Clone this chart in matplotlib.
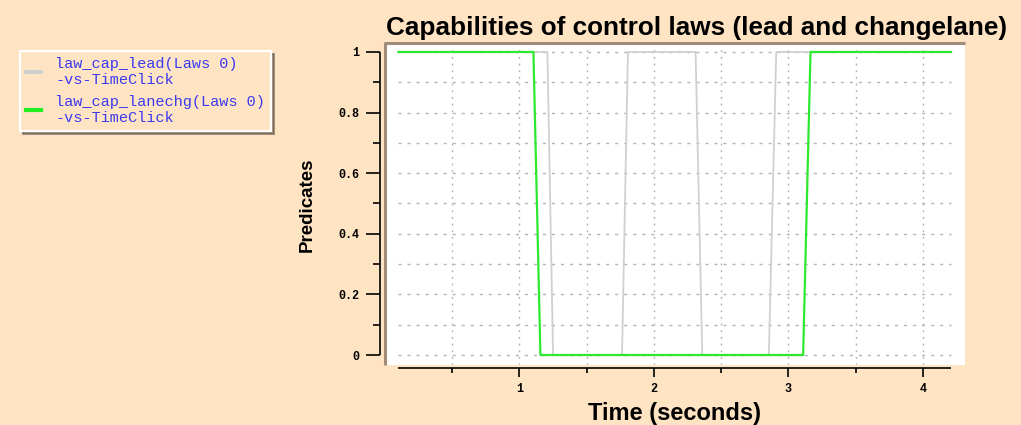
import matplotlib.pyplot as plt
import matplotlib.transforms as mtransforms
from matplotlib.ticker import FixedLocator
from matplotlib.lines import Line2D

# time (seconds) and predicate values
t_lead = [0.10, 1.208, 1.25, 1.763, 1.807, 2.31, 2.36, 2.855, 2.91, 4.21]
cap_lead = [1, 1, 0, 0, 1, 1, 0, 0, 1, 1]

t_lanechg = [0.10, 1.104, 1.156, 3.11, 3.165, 4.21]
cap_lanechg = [1, 1, 0, 0, 1, 1]

labels = ["law_cap_lead(Laws 0)\n-vs-TimeClick",
          "law_cap_lanechg(Laws 0)\n-vs-TimeClick"]
yticks = [0, 0.2, 0.4, 0.6, 0.8, 1]
ytick_labels = ["0", "0.2", "0.4", "0.6", "0.8", "1"]
yminor = [0.1, 0.3, 0.5, 0.7, 0.9]
xticks = [1, 2, 3, 4]
xminor = [0.5, 1.5, 2.5, 3.5]

bg = "#FFE4C4"
W, H = 1021, 425

fig = plt.figure(figsize=(W / 100, H / 100), dpi=100, facecolor=bg)
ax = fig.add_axes([385 / W, 60 / H, 580 / W, 320 / H])
ax.set_facecolor("white")

# shadow edge of the plot area (top and left)
ax.plot([0, 0, 1], [0, 1.005, 1.005], transform=ax.transAxes, color="#a08c78",
        lw=2.2, clip_on=False, zorder=0.5, solid_capstyle="butt")

# grid
tmin, tmax = min(t_lead), max(t_lead)
for y in [i / 10 for i in range(11)]:
    ax.hlines(y, tmin, tmax, colors="#b4b4b4", lw=1.0, linestyles=(0, (2.2, 4.3)), zorder=1)
for x in sorted(xticks + xminor):
    ax.axvline(x, color="#b4b4b4", lw=1.0, ls=(0, (1.4, 3.4)), zorder=1)

ax.plot(t_lead, cap_lead, color="#d0d0d0", lw=1.3, zorder=2)
ax.plot(t_lanechg, cap_lanechg, color="#2ee82e", lw=1.6, zorder=3)

ax.set_xlim(0, 4.314)
ax.set_ylim(-0.033, 1.023)

# spines moved outward (ticks follow them), but drawn by hand over the data range only
left_off, bottom_off = 3.6, 2.2
for s in ["top", "right"]:
    ax.spines[s].set_visible(False)
ax.spines["left"].set_position(("outward", left_off))
ax.spines["bottom"].set_position(("outward", bottom_off))
ax.spines["left"].set_color("none")
ax.spines["bottom"].set_color("none")

shift_x = mtransforms.ScaledTranslation(0, -bottom_off / 72, fig.dpi_scale_trans)
shift_y = mtransforms.ScaledTranslation(-left_off / 72, 0, fig.dpi_scale_trans)
ax.plot([tmin, tmax], [0, 0], transform=ax.get_xaxis_transform() + shift_x,
        color="black", lw=1.2, clip_on=False, solid_capstyle="butt")
ax.plot([0, 0], [0, 1], transform=ax.get_yaxis_transform() + shift_y,
        color="black", lw=1.2, clip_on=False, solid_capstyle="butt")

ax.yaxis.set_major_locator(FixedLocator(yticks))
ax.set_yticklabels(ytick_labels)
ax.yaxis.set_minor_locator(FixedLocator(yminor))
ax.xaxis.set_major_locator(FixedLocator(xticks))
ax.xaxis.set_minor_locator(FixedLocator(xminor))
ax.tick_params(axis="y", which="major", length=10, width=1.2, pad=5, direction="out")
ax.tick_params(axis="y", which="minor", length=5, width=1.2, direction="out")
ax.tick_params(axis="x", which="major", length=6.5, width=1.2, pad=4, direction="out")
ax.tick_params(axis="x", which="minor", length=3.5, width=1.2, direction="out")
for lab in ax.get_xticklabels() + ax.get_yticklabels():
    lab.set_family("Liberation Mono")
    lab.set_fontweight("bold")
    lab.set_fontsize(8.5)

fig.text(386 / W, 1 - 28 / H, "Capabilities of control laws (lead and changelane)",
         fontsize=18.8, fontweight="bold", family="Liberation Sans",
         ha="left", va="center")
ax.set_xlabel("Time (seconds)", fontsize=17, fontweight="bold",
              family="Liberation Sans", labelpad=5)
ax.set_ylabel("Predicates", fontsize=13.5, fontweight="bold",
              family="Liberation Sans", labelpad=16)

handles = [Line2D([], [], color="#d0d0d0", lw=3),
           Line2D([], [], color="#22ee22", lw=3)]
leg = fig.legend(handles, labels, loc="upper left",
                 bbox_to_anchor=(20 / W, 1 - 51 / H), frameon=True,
                 facecolor=bg, edgecolor="white", shadow=True, fancybox=False,
                 prop={"family": "Liberation Mono", "size": 11},
                 handlelength=1.0, handletextpad=0.9, borderpad=0.4,
                 labelspacing=0.5, borderaxespad=0)
leg.get_frame().set_linewidth(1.5)
for txt in leg.get_texts():
    txt.set_color("#3a3af0")

fig.savefig("out.png", dpi=100, facecolor=bg)
